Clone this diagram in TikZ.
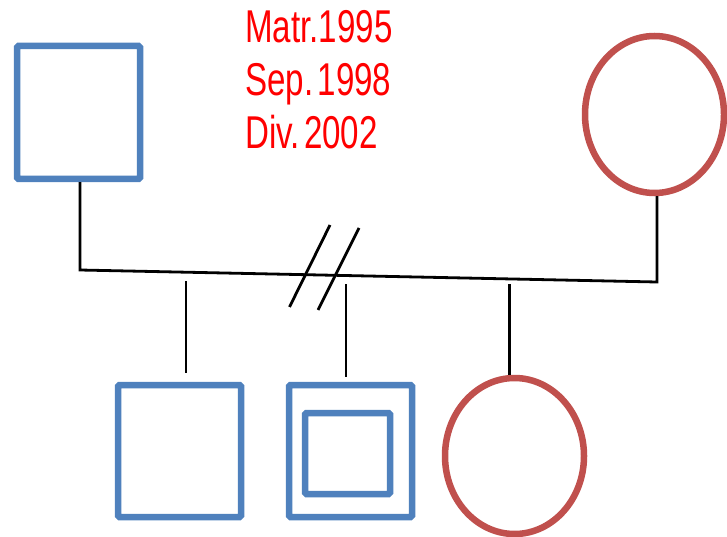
\documentclass[tikz,border=0pt]{standalone}
\usepackage{fontspec}
\usepackage{graphicx}
\setmainfont{Liberation Sans}
\usetikzlibrary{shapes.geometric}
\definecolor{mblue}{HTML}{4F81BD}
\definecolor{fred}{HTML}{C0504D}
\definecolor{tred}{HTML}{FF0000}
\tikzset{
  male/.style={draw=mblue, line width=6.5pt, rectangle, rounded corners=1.5pt, inner sep=0pt, fill=white},
  female/.style={draw=fred, line width=6.5pt, ellipse, inner sep=0pt, fill=white},
  link/.style={draw=black, line width=2.8pt},
  datetext/.style={text=tred, anchor=base west, inner sep=0pt, font=\fontsize{46}{53}\selectfont}
}
\begin{document}
\begin{tikzpicture}[x=1pt,y=-1pt]
\useasboundingbox (0,0) rectangle (727,537);
% parents
\node[male, minimum width=123pt, minimum height=133pt] (father) at (78.5,112.5) {};
\node[female, minimum width=139pt, minimum height=157pt] (mother) at (654.5,114.5) {};
% children
\node[male, minimum width=123pt, minimum height=132pt] (son1) at (179.5,451) {};
\node[male, minimum width=123pt, minimum height=132pt] (son2) at (350.5,451) {};
\node[male, minimum width=85pt, minimum height=81pt] (son2in) at (347.5,453.5) {};
\node[female, minimum width=139pt, minimum height=156pt] (daughter) at (514.5,456) {};
% coordinates
\coordinate (hl) at (80,270);
\coordinate (hr) at (657,282);
\coordinate (c1a) at (186,281);
\coordinate (c1b) at (186,373);
\coordinate (c2a) at (346,284);
\coordinate (c2b) at (346,377);
\coordinate (c3a) at (509.5,284);
\coordinate (c3b) at (509.5,375);
\coordinate (s1a) at (330,225);
\coordinate (s1b) at (289.5,307);
\coordinate (s2a) at (359,228);
\coordinate (s2b) at (318,310);
% lines
\draw[link] ([xshift=1.5pt]father.south) -- (hl) -- (hr) -- ([xshift=2.5pt]mother.south);
\draw[link] (c1a) -- (c1b);
\draw[link] (c2a) -- (c2b);
\draw[link] (c3a) -- (c3b);
\draw[link] (s1a) -- (s1b);
\draw[link] (s2a) -- (s2b);
% texts
\node[datetext] (t1) at (245,43) {\scalebox{0.72}[1]{Matr.1995}};
\node[datetext] (t2) at (245,96) {\scalebox{0.72}[1]{Sep.\hspace{6pt}1998}};
\node[datetext] (t3) at (245,149) {\scalebox{0.72}[1]{Div.\hspace{6pt}2002}};
\end{tikzpicture}
\end{document}
